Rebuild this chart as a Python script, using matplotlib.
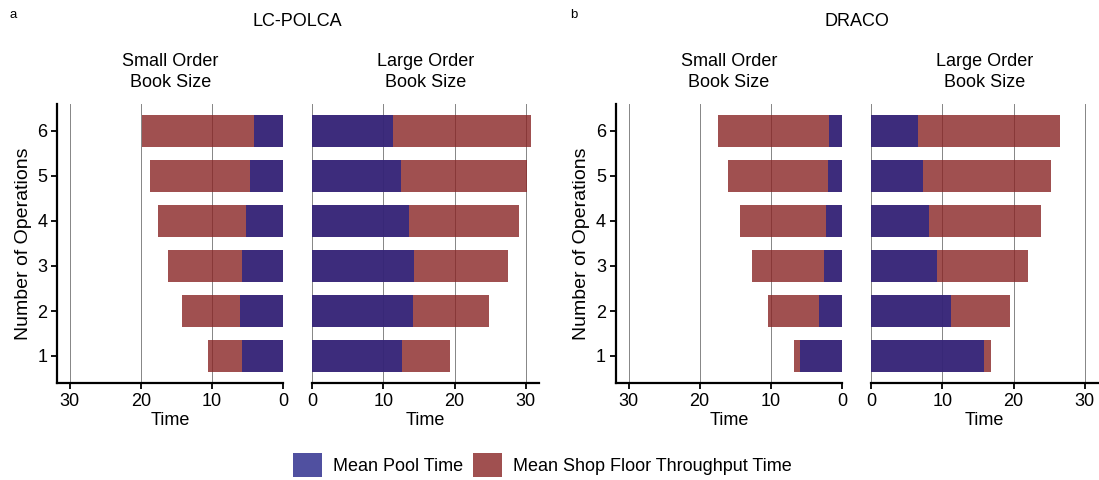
import matplotlib
matplotlib.use("Agg")
import matplotlib.pyplot as plt
from matplotlib.patches import Patch

plt.rcParams["font.family"] = ["Liberation Sans", "DejaVu Sans"]

operations = [1, 2, 3, 4, 5, 6]

# mean pool time and mean shop floor throughput time per number of operations
polca_small_pool = [5.8, 6.1, 5.8, 5.3, 4.65, 4.1]
polca_small_shop = [10.6, 14.2, 16.2, 17.6, 18.7, 19.8]
polca_large_pool = [12.6, 14.1, 14.3, 13.6, 12.5, 11.3]
polca_large_shop = [19.3, 24.8, 27.5, 29.1, 30.1, 30.8]
draco_small_pool = [5.9, 3.3, 2.5, 2.2, 1.9, 1.8]
draco_small_shop = [6.8, 10.4, 12.7, 14.4, 16.0, 17.4]
draco_large_pool = [15.8, 11.2, 9.3, 8.1, 7.3, 6.6]
draco_large_shop = [16.8, 19.5, 22.0, 23.8, 25.3, 26.5]

time_ticks = [0, 10, 20, 30]
pool_color = "#242488"
shop_color = "#882424"
alpha = 0.8

W, H = 1099, 480
fig = plt.figure(figsize=(W / 100, H / 100), dpi=100)


def add_panel(left_px, pool, shop, small):
    ax = fig.add_axes([left_px / W, 97 / H, 226.3 / W, 279 / H])
    for t in time_ticks:
        ax.axvline(t, color="#858585", lw=0.7, zorder=0)
    ax.barh(operations, shop, height=0.7, color=shop_color, alpha=alpha,
            lw=0, zorder=2)
    ax.barh(operations, pool, height=0.7, color=pool_color, alpha=alpha,
            lw=0, zorder=3)
    ax.set_ylim(0.4, 6.6)
    ax.set_xticks(time_ticks)
    ax.tick_params(axis="both", labelsize=13, length=4, width=1.3,
                   colors="black", pad=3)
    ax.set_xlabel("Time", fontsize=13, labelpad=1.5)
    for s in ("top", "right"):
        ax.spines[s].set_visible(False)
    ax.spines["bottom"].set_linewidth(1.6)
    ax.spines["left"].set_linewidth(1.6)
    if small:
        ax.set_xlim(31.8, 0)
        ax.set_yticks(operations)
        ax.set_ylabel("Number of Operations", fontsize=14, labelpad=4)
        title = "Small Order\nBook Size"
    else:
        ax.set_xlim(0, 31.8)
        ax.spines["left"].set_visible(False)
        ax.set_yticks([])
        title = "Large Order\nBook Size"
    ax.text(0.5, 1.115, title, transform=ax.transAxes, ha="center",
            va="center", fontsize=13, linespacing=1.3)
    return ax


add_panel(57, polca_small_pool, polca_small_shop, True)
add_panel(312.3, polca_large_pool, polca_large_shop, False)
add_panel(615.7, draco_small_pool, draco_small_shop, True)
add_panel(871.3, draco_large_pool, draco_large_shop, False)

fig.text(10 / W, 1 - 15 / H, "a", fontsize=9.5, ha="left", va="center")
fig.text(297.7 / W, 1 - 21 / H, "LC-POLCA", fontsize=13, ha="center", va="center")
fig.text(570 / W, 1 - 15 / H, "b", fontsize=9.5, ha="left", va="center")
fig.text(856.7 / W, 1 - 21 / H, "DRACO", fontsize=13, ha="center", va="center")

handles = [Patch(facecolor=pool_color, alpha=alpha, lw=0),
           Patch(facecolor=shop_color, alpha=alpha, lw=0)]
fig.legend(handles, ["Mean Pool Time", "Mean Shop Floor Throughput Time"],
           loc="center", bbox_to_anchor=(542.5 / W, 15 / H), ncol=2,
           frameon=False, fontsize=13, handlelength=1.6, handleheight=1.6,
           handletextpad=0.6, columnspacing=0.55, borderpad=0, borderaxespad=0)

fig.savefig("out.png", dpi=100)
